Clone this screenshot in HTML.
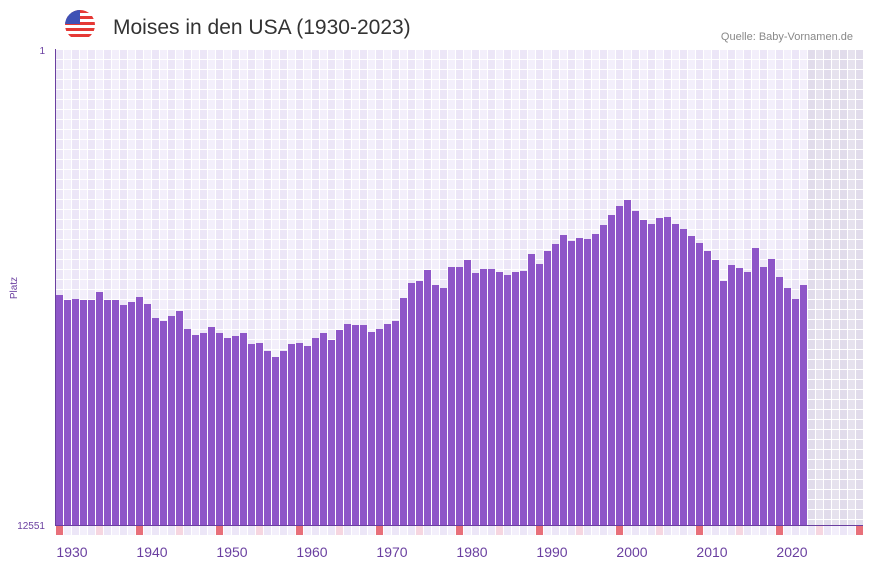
<!DOCTYPE html>
<html><head><meta charset="utf-8"><style>
body{margin:0;background:#fff;width:873px;height:567px;overflow:hidden;font-family:"Liberation Sans",sans-serif}
</style></head><body>
<svg width="873" height="567" xmlns="http://www.w3.org/2000/svg" id="s">
<defs><clipPath id="fc"><circle cx="80" cy="25" r="15"/></clipPath></defs>
<g clip-path="url(#fc)">
<rect x="65" y="10" width="30" height="30" fill="#fff"/>
<rect x="65" y="10" width="30" height="3" fill="#e53935"/><rect x="65" y="16" width="30" height="3" fill="#e53935"/><rect x="65" y="22" width="30" height="3" fill="#e53935"/><rect x="65" y="28" width="30" height="3" fill="#e53935"/><rect x="65" y="34" width="30" height="3" fill="#e53935"/>
<rect x="65" y="10" width="15" height="14" fill="#3f51b5"/>
</g>
<text x="113" y="34" font-size="21" fill="#333">Moises in den USA (1930-2023)</text>
<text x="853" y="40" font-size="11" fill="#888" text-anchor="end">Quelle: Baby-Vornamen.de</text>
<text x="45" y="54" font-size="10" fill="#6a3fa0" text-anchor="end">1</text>
<text x="45" y="529" font-size="10" fill="#6a3fa0" text-anchor="end">12551</text>
<text x="17" y="288" font-size="10" fill="#6a3fa0" text-anchor="middle" transform="rotate(-90 17 288)">Platz</text>
<g id="g"></g>
<line x1="55.5" y1="49" x2="55.5" y2="525" stroke="#6a3fa0"/>
<line x1="55" y1="525.5" x2="863" y2="525.5" stroke="#6a3fa0"/>
<g font-size="14" fill="#6a3fa0" text-anchor="middle" id="lab"></g>
</svg>
<script>
const tops=[295,300,299,300,300,292,300,300,305,302,297,304,318,321,316,311,329,335,333,327,333,338,336,333,344,343,351,357,351,344,343,346,338,333,340,330,324,325,325,332,329,324,321,298,283,281,270,285,288,267,267,260,273,269,269,272,275,272,271,254,264,251,244,235,241,238,239,234,225,215,206,200,211,220,224,218,217,224,229,236,243,251,260,281,265,268,272,248,267,259,277,288,299,285];
const ns="http://www.w3.org/2000/svg";const g=document.getElementById('g');
function r(x,y,w,h,f){const e=document.createElementNS(ns,'rect');e.setAttribute('x',x);e.setAttribute('y',y);e.setAttribute('width',w);e.setAttribute('height',h);e.setAttribute('fill',f);g.appendChild(e);}
r(55,49,808,476,'#fff');
for(let i=0;i<101;i++){const x=55+8*i;const gray=i>=94;
 for(let y=49;y<525;y+=10){const f=gray?(i%2?'#e6e2ee':'#e1dceb'):(i%2?'#f3effb':'#ece6f7');r(x+1,y+1,7,Math.min(9,524-y),f);}
 let bf=(i%10==0)?'#e8707a':(i%10==5)?'#f6d6e0':(i%2?'#f3effb':'#ece6f7');r(x+1,526,7,9,bf);
 if(i<94){r(x+1,tops[i],7,525-tops[i],'#8e56c8');}
}
const lab=document.getElementById('lab');
for(let k=0;k<10;k++){const t=document.createElementNS(ns,'text');t.setAttribute('x',72+80*k);t.setAttribute('y',557);t.textContent=1930+10*k;lab.appendChild(t);}
</script>
</body></html>
